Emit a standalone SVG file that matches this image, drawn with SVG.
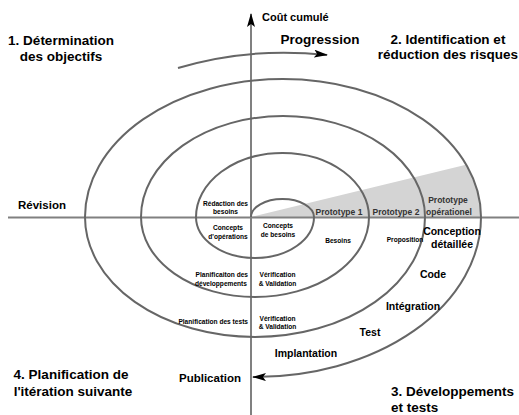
<svg xmlns="http://www.w3.org/2000/svg" width="519" height="415" viewBox="0 0 519 415">
<style>
text{font-family:"Liberation Sans",Arial,Helvetica,sans-serif;font-weight:bold;fill:#000}
.big{font-size:13.5px}
.ax{font-size:11.5px}
.med{font-size:10.5px}
.sm{font-size:6.6px}
.proto{font-size:8.5px;fill:#333}
.c{text-anchor:middle}
.r{text-anchor:end}
.spiral{fill:none;stroke:#666;stroke-width:2}
.axis{fill:none;stroke:#808080;stroke-width:2}
.wedge{fill:#d4d4d4;stroke:none}
</style>
<defs>
<marker id="arr" markerUnits="userSpaceOnUse" markerWidth="14" markerHeight="8" viewBox="0 0 14 8" refX="13" refY="4" orient="auto">
<path d="M0,0 L14,4 L0,8 L3,4 Z" fill="#000"/>
</marker>
</defs>
<rect width="519" height="415" fill="#fff"/>
<g id="wedge">
<path class="wedge" d="M251,217 L466,164.7 A198,138 0 0 1 481,217 Z"/>
</g>
<g id="connectors">
<line class="axis" x1="8" y1="217.5" x2="519" y2="217.5"/>
<line class="axis" x1="251" y1="415" x2="251" y2="14" marker-end="url(#arr)"/>
<path class="spiral" d="M251,217 A31.5,18 0 0 1 314,217 A59,41 0 0 1 196,217 A86.5,64 0 0 1 369,217 A114,80 0 0 1 141,217 A142,101 0 0 1 425,217 A170,120 0 0 1 85,217 A198,138 0 0 1 481,217 A226,160 0 0 1 253,377" marker-end="url(#arr)"/>
<path class="spiral" d="M178,68 A254,164 0 0 1 327,55" marker-end="url(#arr)"/>
</g>
<g id="quadrants">
<text class="big c" x="61" y="45">1. Détermination</text>
<text class="big c" x="61" y="61">des objectifs</text>
<text class="big c" x="448" y="44">2. Identification et</text>
<text class="big c" x="448" y="59">réduction des risques</text>
<text class="big" x="391" y="396">3. Développements</text>
<text class="big" x="391" y="412">et tests</text>
<text class="big c" x="71" y="379">4. Planification de</text>
<text class="big c" x="73" y="396">l'itération suivante</text>
</g>
<g id="axis-labels">
<text class="ax" x="262" y="21" style="font-size:11px">Coût cumulé</text>
<text class="big c" x="320" y="44">Progression</text>
<text class="ax" x="18" y="209">Révision</text>
<text class="ax c" x="210" y="382">Publication</text>
</g>
<g id="cycle1">
<text class="sm c" x="225.5" y="206">Rédaction des</text>
<text class="sm c" x="225.5" y="214">besoins</text>
<text class="sm c" x="228" y="230">Concepts</text>
<text class="sm c" x="228" y="238.5">d'opérations</text>
<text class="sm c" x="278" y="228">Concepts</text>
<text class="sm c" x="278" y="236.5">de besoins</text>
</g>
<g id="cycle2">
<text class="sm c" x="338" y="243">Besoins</text>
<text class="sm r" x="248" y="277">Planificaiton des</text>
<text class="sm r" x="247" y="286">développements</text>
<text class="sm c" x="277.5" y="277">Vérification</text>
<text class="sm c" x="277.5" y="285.5">&amp; Validation</text>
</g>
<g id="cycle3">
<text class="sm c" x="405" y="241.5">Proposition</text>
<text class="sm r" x="248" y="323.5">Planification des tests</text>
<text class="sm c" x="277.5" y="320.5">Vérification</text>
<text class="sm c" x="277.5" y="329">&amp; Validation</text>
</g>
<g id="prototypes">
<text class="proto c" x="339" y="214.5">Prototype 1</text>
<text class="proto c" x="396" y="214.5">Prototype 2</text>
<text class="proto c" x="448" y="203">Prototype</text>
<text class="proto c" x="449" y="214.5">opérationel</text>
</g>
<g id="cycle4">
<text class="med c" x="452" y="234.5">Conception</text>
<text class="med c" x="452" y="247.5">détaillée</text>
<text class="med c" x="433" y="278">Code</text>
<text class="med c" x="413" y="310">Intégration</text>
<text class="med c" x="370" y="335.5">Test</text>
<text class="med c" x="306" y="356.5">Implantation</text>
</g>
</svg>
